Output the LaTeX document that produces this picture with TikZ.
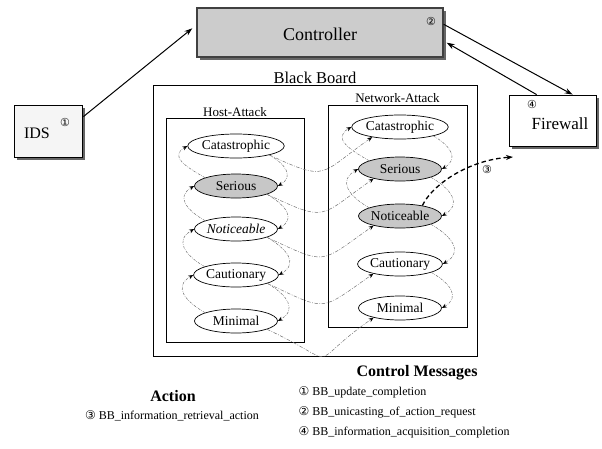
\documentclass[tikz,border=0pt]{standalone}
\usepackage{fontspec}
\setmainfont{Liberation Serif}
\newfontfamily\circfont{DejaVu Sans}
\usetikzlibrary{arrows.meta,shapes.geometric,shadows,calc}
\newcommand{\pxfont}[1]{\fontsize{#1}{#1}\selectfont}

\begin{document}
\begin{tikzpicture}[x=1pt,y=1pt,
  box/.style={draw, line width=0.8pt, inner sep=0pt},
  shadowed/.style={general shadow={fill=black!60, shadow xshift=3pt, shadow yshift=-3pt}},
  lvl/.style={ellipse, draw, line width=0.7pt, fill=white, minimum width=83pt,
              minimum height=24pt, inner sep=0pt, font=\pxfont{13.5}},
  hot/.style={lvl, fill=black!22},
  ladder/.style={-{Stealth[length=5pt,width=4pt,color=black]}, draw=black!55,
                 line width=0.5pt, dash pattern=on 2.5pt off 1.2pt on 0.6pt off 1.2pt,
                 looseness=1.5},
  xlink/.style={-{Stealth[length=5pt,width=4pt,color=black]}, draw=black!55,
                line width=0.5pt, dash pattern=on 3.5pt off 1.5pt on 0.8pt off 1.5pt,
                out=-25, in=-145, looseness=1.6},
  msg/.style={-{Stealth[length=8pt,width=5.5pt]}, line width=1pt},
  cnum/.style={font=\circfont\pxfont{11}, inner sep=0pt}
]
\useasboundingbox (0,0) rectangle (602,-448);

% controller, sensor and firewall
\node[box, fill=black!20, line width=1.4pt, draw=black!75, shadowed,
      minimum width=246pt, minimum height=49pt] (ctrl) at (320,-32.5) {};
\node[font=\pxfont{18}] (ctrltxt) at (320,-34) {Controller};
\node[cnum] (n2) at (431,-21) {②};

\node[box, fill=black!4, shadowed, minimum width=68pt, minimum height=52pt] (ids) at (48,-131) {};
\node[font=\pxfont{16}] (idstxt) at (37,-133) {IDS};
\node[cnum] (n1) at (65,-122) {①};

\node[box, fill=white, shadowed, minimum width=87pt, minimum height=51pt] (fw) at (552.5,-120.5) {};
\node[font=\pxfont{17}] (fwtxt) at (560,-124) {Firewall};
\node[cnum] (n4) at (532,-104) {④};

% black board and its two partitions
\node[box, line width=0.6pt, minimum width=324pt, minimum height=271pt] (bb) at (315,-220.5) {};
\node[font=\pxfont{16.5}, anchor=south, inner sep=1pt] (bbtxt) at (bb.north) {Black Board};
\node[box, minimum width=138pt, minimum height=224pt] (host) at (235,-230) {};
\node[font=\pxfont{13}, anchor=south, inner sep=1pt] (hosttxt) at (host.north) {Host-Attack};
\node[box, minimum width=139pt, minimum height=222pt] (net) at (397.5,-216) {};
\node[font=\pxfont{13}, anchor=south, inner sep=2pt] (nettxt) at (net.north) {Network-Attack};

% severity levels
\node[lvl] (hcat) at (236,-146) {Catastrophic};
\node[hot] (hser) at (236,-186) {Serious};
\node[lvl] (hnot) at (236,-229) {\itshape Noticeable};
\node[lvl] (hcau) at (236,-275) {Cautionary};
\node[lvl] (hmin) at (236,-321) {Minimal};

\node[lvl] (ncat) at (400,-127) {Catastrophic};
\node[hot] (nser) at (400,-169) {Serious};
\node[hot] (nnot) at (400,-216) {Noticeable};
\node[lvl] (ncau) at (400,-264) {Cautionary};
\node[lvl] (nmin) at (400,-308) {Minimal};

% escalation (left) and de-escalation (right) arcs
\foreach \lo/\up in {hser/hcat, hnot/hser, hcau/hnot, hmin/hcau, nser/ncat, nnot/nser}
  \draw[ladder] (\lo.165) to[out=150,in=210] (\up.west);
\foreach \up/\lo in {hcat/hser, hser/hnot, hnot/hcau, hcau/hmin, ncat/nser, nser/nnot, nnot/ncau, ncau/nmin}
  \draw[ladder] (\up.-15) to[out=-30,in=30] (\lo.east);

% host level to network level links
\foreach \a/\b in {hcat/ncat, hser/nser, hnot/nnot, hcau/ncau}
  \draw[xlink] (\a.-15) to (\b.200);
\draw[xlink, looseness=2.1] (hmin.-15) to (nmin.200);

% retrieval action towards the firewall
\coordinate (fwin) at (513,-157);
\draw[line width=1.3pt, dash pattern=on 4.5pt off 3pt, -{Stealth[length=7pt,width=5pt]}]
  (nnot.25) .. controls (432,-185) and (468,-160) .. (fwin);
\node[cnum] (n3) at (487,-169) {③};

% control messages
\draw[msg] ($(ids.north east)+(1,-12)$) -- ($(ctrl.north west)+(-4,-21)$);
\draw[msg] ($(ctrl.north east)+(0,-17)$) -- ($(fw.north west)+(64,0)$);
\draw[msg] ($(fw.north west)+(28,0)$) -- ($(ctrl.south east)+(3,15)$);

% legend
\node[font=\bfseries\pxfont{16}, anchor=west] (cmh) at (353,-373) {Control Messages};
\node[font=\pxfont{12}, anchor=west] (m1) at (295,-392) {{\circfont ①} BB\_update\_completion};
\node[font=\pxfont{12}, anchor=west] (m2) at (295,-412) {{\circfont ②} BB\_unicasting\_of\_action\_request};
\node[font=\pxfont{12}, anchor=west] (m4) at (295,-432) {{\circfont ④} BB\_information\_acquisition\_completion};
\node[font=\bfseries\pxfont{16}] (acth) at (173,-396) {Action};
\node[font=\pxfont{12}] (a3) at (172,-416) {{\circfont ③} BB\_information\_retrieval\_action};
\end{tikzpicture}
\end{document}
